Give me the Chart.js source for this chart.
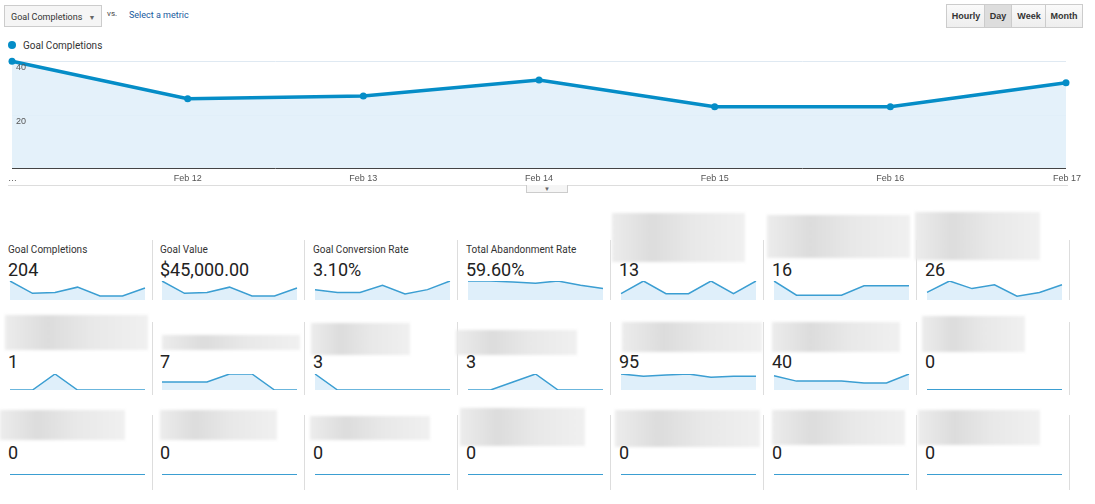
<!DOCTYPE html>
<html><head><meta charset="utf-8">
<script src="https://cdn.jsdelivr.net/npm/chart.js@4"></script>
<style>
body{margin:0;width:1095px;height:504px;background:#fff;font-family:Roboto,Arial,sans-serif;position:relative;overflow:hidden}
.abs{position:absolute}
.btn{border:1px solid #ccc;background:linear-gradient(#fafafa,#eee);font:bold 9px Arial,sans-serif;color:#333;text-align:center;line-height:22px;height:22px}
.lbl{font-size:10px;color:#333}
.val{font-size:18px;color:#222}
.blur{background:linear-gradient(90deg,#ececec,#dcdcdc 30%,#e8e8e8 60%,#f0f0f0);filter:blur(1.5px)}
.sep{width:1px;background:#ddd}
</style></head><body>
<div class="abs" style="left:4px;top:5px;width:98px;height:22px;border:1px solid #ccc;background:#f5f5f5;font-size:9px;line-height:22px;color:#333;padding-left:6px;box-sizing:border-box">Goal Completions <span style="font-size:7px;color:#666;margin-left:4px">▼</span></div>
<div class="abs" style="left:107px;top:9px;font-size:8px;color:#444">vs.</div>
<div class="abs" style="left:129px;top:10px;font-size:9px;color:#1a5a9e">Select a metric</div>
<div class="abs btn" style="left:946px;top:4px;width:38px">Hourly</div>
<div class="abs btn" style="left:984px;top:4px;width:26px;background:#ddd">Day</div>
<div class="abs btn" style="left:1011px;top:4px;width:34px">Week</div>
<div class="abs btn" style="left:1045px;top:4px;width:36px">Month</div>
<div class="abs" style="left:8px;top:41px;width:8px;height:8px;border-radius:50%;background:#058dc7"></div>
<div class="abs" style="left:23px;top:40px;font-size:10px;color:#333">Goal Completions</div>
<canvas id="main" class="abs" width="1095" height="190" style="left:0;top:0;width:1095px;height:190px"></canvas>
<div class="abs" style="left:8px;top:185px;width:1060px;height:1px;background:#ddd"></div>
<div class="abs" style="left:526px;top:185px;width:40px;height:7px;border:1px solid #ccc;border-top:none;background:#f5f5f5;font-size:6px;text-align:center;color:#666;line-height:7px">▼</div>
<div id="grid"></div>
<script>
const labels=["Feb 11","Feb 12","Feb 13","Feb 14","Feb 15","Feb 16","Feb 17"];
const tickLabels=["…","Feb 12","Feb 13","Feb 14","Feb 15","Feb 16","Feb 17"];
const goalCompletions=[40,26,27,33,23,23,32];
const yTicks=[20,40];
const cardNames=["Goal Completions","Goal Value","Goal Conversion Rate","Total Abandonment Rate"];
const cardValues=["204","$45,000.00","3.10%","59.60%","13","16","26","1","7","3","3","95","40","0","0","0","0","0","0","0","0"];
const sparks=[
 [40,26,27,33,23,23,32],[40,26,27,33,23,23,32],[24,22,22,27,21,24,30],[60,60,59,58,60,56,53],
 [1,3,1,1,3,1,3],[4,1,1,1,3,3,3],[2,5,3,4,1,2,4],
 [0,0,1,0,0,0,0],[1,1,1,2,2,0,0],[3,0,0,0,0,0,0],[0,0,1,2,0,0,0],[15,13,14,15,12,13,13],[8,5,5,5,4,4,9],[0,0,0,0,0,0,0],
 [0,0,0,0,0,0,0],[0,0,0,0,0,0,0],[0,0,0,0,0,0,0],[0,0,0,0,0,0,0],[0,0,0,0,0,0,0],[0,0,0,0,0,0,0],[0,0,0,0,0,0,0]];

const drawPlug={id:'gadraw',beforeDatasetsDraw(c){const {ctx,chartArea:a,scales:{x,y}}=c;ctx.save();
 ctx.strokeStyle='#dfe9f2';ctx.lineWidth=1;
 yTicks.forEach(v=>{const p=Math.round(y.getPixelForValue(v))+.5;ctx.beginPath();ctx.moveTo(a.left,p);ctx.lineTo(a.right,p);ctx.stroke();});
 ctx.restore();},
 afterDatasetsDraw(c){const {ctx,chartArea:a,scales:{x,y}}=c;ctx.save();
 ctx.font='9px Arial';ctx.fillStyle='#555';ctx.textBaseline='top';ctx.textAlign='left';
 yTicks.forEach(v=>ctx.fillText(String(v),a.left+4,y.getPixelForValue(v)+2));
 ctx.strokeStyle='#444';ctx.lineWidth=1;ctx.beginPath();ctx.moveTo(a.left,a.bottom+.5);ctx.lineTo(a.right,a.bottom+.5);ctx.stroke();
 tickLabels.forEach((t,i)=>{const px=x.getPixelForValue(i);const last=i==tickLabels.length-1;ctx.textAlign=i==0?'left':(last?'right':'center');ctx.fillText(t,last?px+15:(i==0?px-4:px),a.bottom+6);});
 ctx.restore();}};
new Chart(document.getElementById('main'),{type:'line',data:{labels,datasets:[{data:goalCompletions,borderColor:'#058dc7',borderWidth:3.5,backgroundColor:'rgba(225,240,250,0.9)',fill:'origin',tension:0,pointRadius:3.5,pointBackgroundColor:'#058dc7',pointBorderWidth:0}]},
 options:{responsive:false,animation:false,devicePixelRatio:1,layout:{padding:{left:12,right:29,top:48,bottom:22}},
 plugins:{legend:{display:false},tooltip:{enabled:false}},
 scales:{x:{display:false,offset:false},y:{display:false,min:0,max:45}}},plugins:[drawPlug]});

const colX=[8,160,313,466,619,772,925];
const rows=[{lbl:250,val:259,sp:281,sh:19,sep:[240,300]},{lbl:330,val:351,sp:374,sh:16,sep:[322,395]},{lbl:425,val:442,sp:472,sh:3,sep:[415,490]}];
const blurs=[null,null,null,null,[612,213,133,49],[767,215,143,43],[915,212,125,48],
 [5,315,143,35],[162,335,138,15],[311,323,99,32],[456,330,121,25],[622,322,140,30],[772,322,128,30],[922,316,103,36],
 [0,410,125,30],[160,410,117,30],[310,416,120,24],[460,408,125,38],[615,410,145,37],[772,410,133,35],[918,410,122,35]];
const g=document.getElementById('grid');
for(let r=0;r<3;r++){const R=rows[r];
 for(let c=0;c<7;c++){const i=r*7+c,x=colX[c];
  if(r==0&&c<4){const d=document.createElement('div');d.className='abs lbl';d.style.cssText=`left:${x}px;top:${R.lbl-6}px`;d.textContent=cardNames[c];g.appendChild(d);}
  if(blurs[i]){const b=blurs[i],d=document.createElement('div');d.className='abs blur';d.style.cssText=`left:${b[0]}px;top:${b[1]}px;width:${b[2]}px;height:${b[3]}px`;g.appendChild(d);}
  const v=document.createElement('div');v.className='abs val';v.style.cssText=`left:${x}px;top:${R.val}px`;v.textContent=cardValues[i];g.appendChild(v);
  const cv=document.createElement('canvas');cv.className='abs';cv.width=140;cv.height=R.sh+4;cv.style.cssText=`left:${x}px;top:${R.sp-2}px`;g.appendChild(cv);
  const data=sparks[i],mx=Math.max(...data);const lo=(r==0&&c<4)?Math.min(...data)*0.8:0;
  new Chart(cv,{type:'line',data:{labels,datasets:[{data,borderColor:'#3b9ed2',borderWidth:mx>0?1.5:2,backgroundColor:'rgba(220,237,249,0.9)',fill:'start',tension:0,pointRadius:0}]},
   options:{responsive:false,animation:false,devicePixelRatio:1,layout:{padding:{left:2,right:3,top:2,bottom:2}},plugins:{legend:{display:false},tooltip:{enabled:false}},
   scales:{x:{display:false},y:{display:false,min:lo,max:mx>0?mx:1}}}});
  const s=document.createElement('div');s.className='abs sep';s.style.cssText=`left:${colX[c]+144}px;top:${R.sep[0]}px;height:${R.sep[1]-R.sep[0]}px`;g.appendChild(s);
 }}
</script></body></html>
